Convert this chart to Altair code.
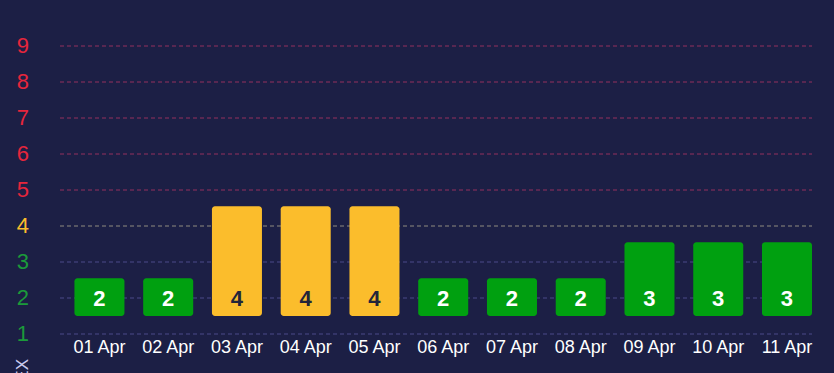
import altair as alt
import pandas as pd

dates = ["01 Apr", "02 Apr", "03 Apr", "04 Apr", "05 Apr", "06 Apr",
         "07 Apr", "08 Apr", "09 Apr", "10 Apr", "11 Apr"]
values = [2, 2, 4, 4, 4, 2, 2, 2, 3, 3, 3]
y_ticks = [1, 2, 3, 4, 5, 6, 7, 8, 9]

BG = "#1c1f45"
RED = "#e6263c"
YEL = "#fbbd2c"
GRN = "#1b9a3a"
BAR_GRN = "#00a010"

df = pd.DataFrame({"date": dates, "value": values})
df["base"] = 1.5
df["top"] = df["value"] + 0.55
df["labely"] = 2.0

yscale = alt.Scale(domain=[1, 9], nice=False, zero=False)
xscale = alt.Scale(paddingInner=0.2727, paddingOuter=0.105, align=1)

xaxis = alt.Axis(title=None, labelAngle=0, labelColor="#ffffff",
                 labelFontSize=18, labelPadding=4, domain=False,
                 ticks=False, grid=False, labelFont="Liberation Sans",
                 labelOverlap=False)

yaxis = alt.Axis(
    values=y_ticks, title="KP INDEX", titleAngle=270, titleX=-37, titleY=313,
    titleAlign="right", titleBaseline="middle", titleColor="#c9c9ee",
    titleFontSize=17, titleFontWeight="normal", titleFont="Liberation Sans",
    labelFontSize=22, labelFont="Liberation Sans", labelPadding=31,
    labelOverlap=False, labelFlush=False, labelBound=False, translate=0,
    ticks=False, domain=False, grid=True, gridDash=[4, 3], gridWidth=1,
    labelColor={"condition": [{"test": "datum.value >= 5", "value": RED},
                              {"test": "datum.value >= 4", "value": YEL}],
                "value": GRN},
    gridColor={"condition": [{"test": "datum.value >= 5", "value": "#93305f"},
                             {"test": "datum.value >= 4", "value": "#8f8c80"}],
               "value": "#4a4a8a"},
)

bars = alt.Chart(df).mark_bar(cornerRadius=3).encode(
    x=alt.X("date:N", sort=dates, scale=xscale, axis=xaxis),
    y=alt.Y("base:Q", scale=yscale, axis=yaxis),
    y2="top:Q",
    color=alt.condition("datum.value >= 4", alt.value(YEL), alt.value(BAR_GRN)),
)

labels = alt.Chart(df).mark_text(fontSize=22, fontWeight="bold", baseline="middle",
                                 dy=1, font="Liberation Sans").encode(
    x=alt.X("date:N", sort=dates, scale=xscale, axis=xaxis),
    y=alt.Y("labely:Q", scale=yscale, axis=yaxis),
    text=alt.Text("value:Q"),
    color=alt.condition("datum.value >= 4", alt.value("#23253a"), alt.value("#ffffff")),
)

chart = alt.layer(bars, labels).properties(
    width=752, height=288, background=BG,
    autosize="none",
    padding={"left": 60, "top": 46, "right": 22, "bottom": 39},
).configure_view(stroke=None)

chart.save("out.html", embed_options={"renderer": "svg", "actions": False})
